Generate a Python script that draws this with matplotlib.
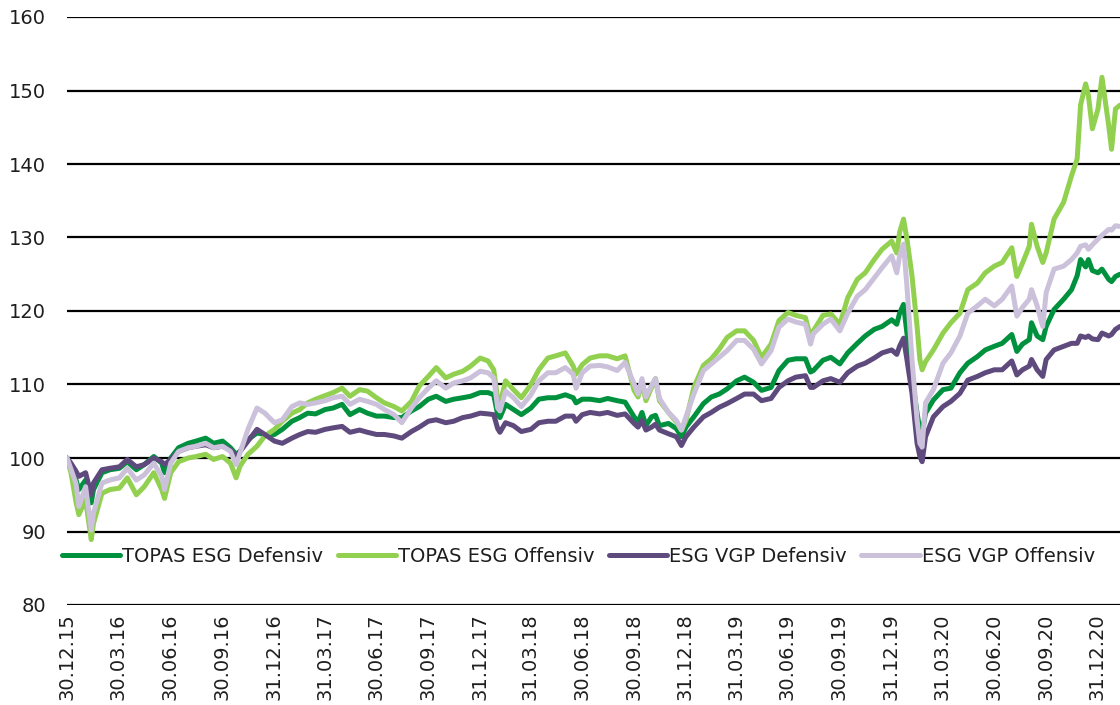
#!/usr/bin/env python3
"""
TOPAS ESG vs. ESG VGP - Wertentwicklung (indexiert, 30.12.15 = 100)
"""

import matplotlib
matplotlib.use('Agg')
import matplotlib.pyplot as plt
import pandas as pd

# Datenpunkte (ca. halbmonatlich + Extrempunkte)
dates = [
    '2015-12-30', '2016-01-06', '2016-01-15', '2016-01-20', '2016-02-01', '2016-02-11', '2016-02-15',
    '2016-03-01', '2016-03-15', '2016-04-01', '2016-04-15', '2016-05-01', '2016-05-15', '2016-06-01',
    '2016-06-15', '2016-06-20', '2016-07-01', '2016-07-15', '2016-08-01', '2016-08-15', '2016-09-01',
    '2016-09-15', '2016-10-01', '2016-10-15', '2016-10-25', '2016-11-01', '2016-11-15', '2016-12-01',
    '2016-12-15', '2017-01-01', '2017-01-15', '2017-02-01', '2017-02-15', '2017-03-01', '2017-03-15',
    '2017-04-01', '2017-04-15', '2017-05-01', '2017-05-15', '2017-06-01', '2017-06-15', '2017-07-01',
    '2017-07-15', '2017-08-01', '2017-08-15', '2017-09-01', '2017-09-15', '2017-10-01', '2017-10-15',
    '2017-11-01', '2017-11-15', '2017-12-01', '2017-12-15', '2018-01-01', '2018-01-15', '2018-01-25',
    '2018-02-01', '2018-02-05', '2018-02-15', '2018-03-01', '2018-03-15', '2018-04-01', '2018-04-15',
    '2018-05-01', '2018-05-15', '2018-06-01', '2018-06-15', '2018-06-20', '2018-07-01', '2018-07-15',
    '2018-08-01', '2018-08-15', '2018-09-01', '2018-09-15', '2018-10-01', '2018-10-08', '2018-10-15',
    '2018-10-22', '2018-11-01', '2018-11-08', '2018-11-15', '2018-12-01', '2018-12-15', '2018-12-24',
    '2019-01-01', '2019-01-15', '2019-02-01', '2019-02-15', '2019-03-01', '2019-03-15', '2019-04-01',
    '2019-04-15', '2019-05-01', '2019-05-15', '2019-06-01', '2019-06-15', '2019-07-01', '2019-07-15',
    '2019-08-01', '2019-08-10', '2019-08-15', '2019-09-01', '2019-09-15', '2019-10-01', '2019-10-15',
    '2019-11-01', '2019-11-15', '2019-12-01', '2019-12-15', '2020-01-01', '2020-01-10', '2020-01-15',
    '2020-01-22', '2020-01-28', '2020-02-06', '2020-02-15', '2020-02-20', '2020-02-24', '2020-03-01',
    '2020-03-15', '2020-04-01', '2020-04-15', '2020-05-01', '2020-05-15', '2020-06-01', '2020-06-15',
    '2020-07-01', '2020-07-15', '2020-08-01', '2020-08-10', '2020-08-20', '2020-09-01', '2020-09-05',
    '2020-09-15', '2020-09-25', '2020-10-01', '2020-10-15', '2020-11-01', '2020-11-15', '2020-11-25',
    '2020-12-01', '2020-12-10', '2020-12-15', '2020-12-22', '2021-01-01', '2021-01-08', '2021-01-20',
    '2021-01-25', '2021-02-01', '2021-02-09',
]

topas_def = [
    100.0, 99.0, 97.0, 95.7, 97.0, 93.9, 95.7,
    98.0, 98.4, 98.6, 99.5, 98.4, 99.1, 100.2,
    99.3, 98.0, 100.0, 101.4, 102.0, 102.3, 102.7,
    102.0, 102.3, 101.4, 100.5, 100.9, 102.5, 103.4,
    103.2, 103.2, 103.9, 105.0, 105.5, 106.1, 106.0,
    106.6, 106.8, 107.3, 105.9, 106.6, 106.1, 105.7,
    105.7, 105.5, 105.5, 106.4, 107.0, 108.0, 108.4,
    107.7, 108.0, 108.2, 108.4, 108.9, 108.9, 108.6,
    105.9, 105.5, 107.3, 106.6, 105.9, 106.8, 108.0,
    108.2, 108.2, 108.6, 108.2, 107.5, 108.0, 108.0,
    107.8, 108.1, 107.8, 107.6, 105.6, 104.9, 106.2,
    104.4, 105.6, 105.8, 104.4, 104.7, 104.0, 102.9,
    104.2, 105.6, 107.4, 108.3, 108.7, 109.4, 110.5,
    111.0, 110.3, 109.2, 109.6, 111.9, 113.3, 113.5,
    113.5, 111.7, 111.9, 113.3, 113.7, 112.8, 114.3,
    115.6, 116.6, 117.5, 117.9, 118.8, 118.2, 119.7,
    120.9, 117.0, 111.1, 106.1, 103.8, 103.4, 106.1,
    107.9, 109.3, 109.5, 111.6, 112.9, 113.8, 114.7,
    115.2, 115.6, 116.8, 114.5, 115.5, 116.1, 118.4,
    116.6, 116.1, 117.9, 120.2, 121.6, 122.9, 124.8,
    127.0, 126.0, 127.0, 125.5, 125.2, 125.7, 124.3,
    124.0, 124.7, 125.0,
]

topas_off = [
    100.0, 98.0, 94.0, 92.3, 94.3, 88.9, 91.1,
    95.2, 95.7, 95.9, 97.3, 95.0, 96.1, 98.0,
    95.7, 94.5, 98.0, 99.5, 100.0, 100.2, 100.5,
    99.8, 100.2, 99.3, 97.3, 98.9, 100.5, 101.6,
    103.0, 103.9, 105.0, 106.1, 106.6, 107.5, 108.0,
    108.5, 108.9, 109.5, 108.4, 109.3, 109.1, 108.2,
    107.5, 107.0, 106.4, 107.7, 109.8, 111.1, 112.3,
    110.9, 111.4, 111.8, 112.5, 113.6, 113.2, 112.0,
    108.0, 107.3, 110.5, 109.3, 108.2, 110.0, 112.0,
    113.6, 113.9, 114.3, 112.5, 111.4, 112.7, 113.6,
    113.9, 113.9, 113.5, 113.9, 109.2, 108.3, 110.3,
    107.8, 109.6, 110.8, 107.8, 106.2, 104.9, 103.8,
    105.1, 109.6, 112.6, 113.5, 114.8, 116.4, 117.3,
    117.3, 116.0, 113.7, 115.5, 118.7, 119.8, 119.4,
    119.1, 116.4, 117.3, 119.4, 119.6, 118.2, 121.8,
    124.3, 125.2, 127.0, 128.4, 129.5, 127.9, 130.7,
    132.5, 129.8, 124.8, 117.9, 113.4, 112.0, 113.1,
    114.7, 117.0, 118.4, 119.7, 122.9, 123.8, 125.2,
    126.1, 126.6, 128.6, 124.7, 126.5, 128.8, 131.8,
    128.8, 126.6, 127.9, 132.5, 134.8, 138.4, 140.7,
    148.0, 150.9, 149.3, 144.8, 147.5, 151.8, 145.2,
    142.0, 147.5, 148.0,
]

vgp_def = [
    100.0, 99.3, 98.2, 97.5, 98.0, 95.0, 96.6,
    98.4, 98.6, 98.8, 99.8, 98.8, 99.1, 100.0,
    99.5, 99.1, 99.8, 100.9, 101.4, 101.6, 101.8,
    101.4, 101.6, 101.1, 100.2, 100.9, 102.3, 103.9,
    103.2, 102.3, 102.0, 102.7, 103.2, 103.6, 103.5,
    103.9, 104.1, 104.3, 103.5, 103.8, 103.5, 103.2,
    103.2, 103.0, 102.7, 103.6, 104.2, 105.0, 105.2,
    104.8, 105.0, 105.5, 105.7, 106.1, 106.0, 105.9,
    104.0, 103.5, 104.8, 104.4, 103.6, 103.9, 104.8,
    105.0, 105.0, 105.7, 105.7, 105.0, 105.9, 106.2,
    106.0, 106.2, 105.8, 106.0, 104.7, 104.2, 105.1,
    103.8, 104.2, 104.6, 103.8, 103.3, 102.9, 101.7,
    102.9, 104.2, 105.6, 106.2, 106.9, 107.4, 108.1,
    108.7, 108.7, 107.8, 108.1, 109.6, 110.5, 111.0,
    111.2, 109.6, 109.6, 110.5, 110.8, 110.3, 111.6,
    112.5, 112.9, 113.6, 114.3, 114.7, 114.1, 115.2,
    116.3, 113.4, 108.8, 102.0, 100.2, 99.5, 102.9,
    105.6, 107.0, 107.7, 108.8, 110.6, 111.1, 111.6,
    112.0, 112.0, 113.2, 111.3, 112.0, 112.5, 113.4,
    112.0, 111.1, 113.4, 114.7, 115.2, 115.6, 115.6,
    116.6, 116.4, 116.6, 116.2, 116.1, 117.0, 116.6,
    116.8, 117.5, 117.9,
]

vgp_off = [
    100.0, 98.5, 96.5, 93.4, 96.1, 90.2, 92.5,
    96.6, 97.0, 97.3, 98.6, 97.0, 97.7, 99.3,
    97.5, 95.7, 99.3, 100.9, 101.4, 101.6, 102.0,
    101.4, 101.6, 100.9, 99.1, 100.7, 103.9, 106.8,
    106.1, 104.8, 105.2, 107.0, 107.5, 107.3, 107.5,
    107.8, 108.2, 108.4, 107.3, 108.0, 107.7, 107.3,
    106.6, 105.9, 104.8, 106.8, 108.2, 109.5, 110.5,
    109.5, 110.2, 110.5, 110.9, 111.8, 111.6, 110.9,
    106.8, 106.4, 109.1, 108.2, 107.0, 108.6, 110.5,
    111.6, 111.6, 112.3, 111.4, 109.5, 111.6, 112.5,
    112.6, 112.4, 111.9, 113.0, 110.1, 108.7, 110.8,
    108.3, 109.9, 110.8, 108.1, 106.2, 105.1, 103.8,
    105.6, 108.7, 111.9, 112.8, 113.7, 114.6, 116.0,
    116.0, 114.8, 112.8, 114.6, 117.8, 118.9, 118.5,
    118.2, 115.5, 116.9, 118.2, 118.9, 117.3, 119.7,
    122.0, 122.9, 124.5, 125.9, 127.5, 125.2, 127.5,
    129.1, 123.4, 113.4, 105.2, 102.0, 101.5, 107.5,
    109.3, 112.9, 114.3, 116.6, 119.7, 120.7, 121.6,
    120.7, 121.6, 123.4, 119.3, 120.5, 121.6, 122.9,
    120.7, 117.9, 122.5, 125.7, 126.1, 127.0, 127.9,
    128.8, 129.0, 128.4, 129.0, 129.8, 130.3, 131.1,
    131.0, 131.6, 131.5,
]

series_names = ['TOPAS ESG Defensiv', 'TOPAS ESG Offensiv', 'ESG VGP Defensiv', 'ESG VGP Offensiv']
series_colors = ['#00913F', '#92D050', '#5E4A7D', '#CCC1DB']

tick_dates = ['2015-12-30', '2016-03-30', '2016-06-30', '2016-09-30', '2016-12-31', '2017-03-31',
              '2017-06-30', '2017-09-30', '2017-12-31', '2018-03-31', '2018-06-30', '2018-09-30',
              '2018-12-31', '2019-03-31', '2019-06-30', '2019-09-30', '2019-12-31', '2020-03-31',
              '2020-06-30', '2020-09-30', '2020-12-31']
tick_labels = ['30.12.15', '30.03.16', '30.06.16', '30.09.16', '31.12.16', '31.03.17',
               '30.06.17', '30.09.17', '31.12.17', '31.03.18', '30.06.18', '30.09.18',
               '31.12.18', '31.03.19', '30.06.19', '30.09.19', '31.12.19', '31.03.20',
               '30.06.20', '30.09.20', '31.12.20']
y_ticks = [80, 90, 100, 110, 120, 130, 140, 150, 160]

plt.rcParams['font.family'] = ['DejaVu Sans']
plt.rcParams['font.size'] = 14

fig = plt.figure(figsize=(11.2, 7.05), dpi=100)
ax = fig.add_axes([67 / 1120, 1 - 605 / 705, 1 - 67 / 1120, (605 - 17) / 705])

x = pd.to_datetime(dates)
for vals, name, col in zip([topas_def, topas_off, vgp_def, vgp_off], series_names, series_colors):
    ax.plot(x, vals, color=col, lw=3.6, label=name, solid_joinstyle='round', solid_capstyle='round')

ax.set_ylim(80, 160)
ax.set_yticks(y_ticks)
ax.set_xlim(pd.Timestamp('2015-12-30'), pd.Timestamp('2021-02-09'))
ax.set_xticks(pd.to_datetime(tick_dates))
ax.set_xticklabels(tick_labels, rotation=90, color='#1e1e1e')
ax.tick_params(axis='y', length=0, pad=15, labelcolor='#1e1e1e')
ax.tick_params(axis='x', length=0, pad=6)

ax.grid(axis='y', color='black', lw=1.6)
ax.set_axisbelow(True)
for s in ax.spines.values():
    s.set_visible(False)

ax.legend(loc='center left', bbox_to_anchor=(-0.005, 0.082), ncol=4, frameon=False,
          handlelength=3.0, handletextpad=0.1, columnspacing=0.75, borderpad=0,
          borderaxespad=0, fontsize=14, labelcolor='#1e1e1e')

fig.savefig('out.png', dpi=100)
